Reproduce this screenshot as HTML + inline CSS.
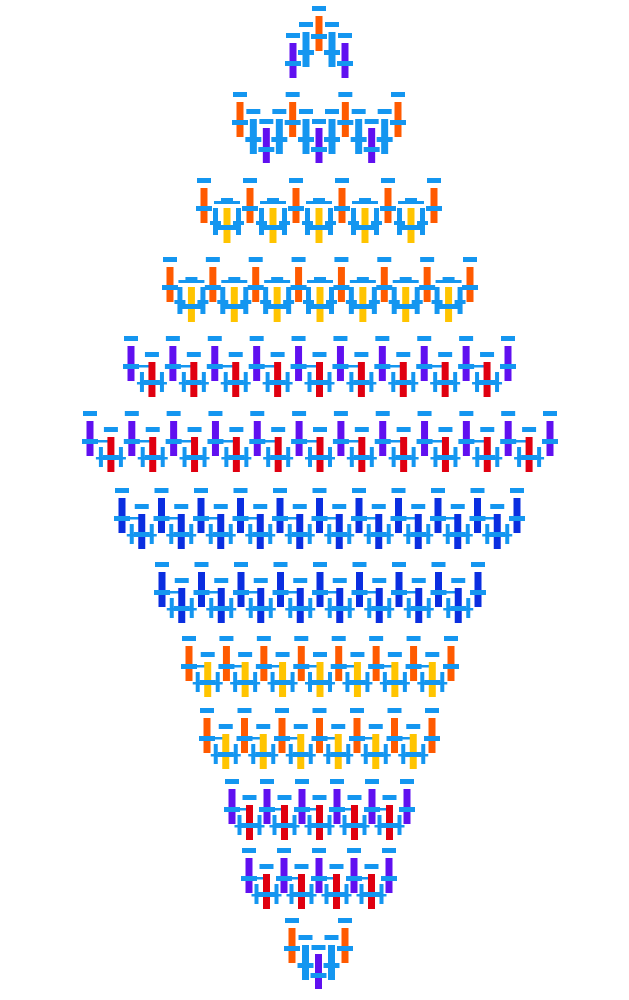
<!DOCTYPE html>
<html><head><meta charset="utf-8"><style>
html,body{margin:0;padding:0;background:#fff;width:629px;height:1000px;overflow:hidden}
svg{display:block}
</style></head><body>
<svg id="chart" width="629" height="1000" viewBox="0 0 629 1000" xmlns="http://www.w3.org/2000/svg"></svg>
<script>
// row data: top y of dash, first/last primary x, count, colors, style
const rowTops = [92, 178, 257, 336, 411, 488, 562, 636, 708, 779, 848, 918];
const rowFirstX = [240, 204, 170, 131, 90, 122, 162, 189, 207, 232, 249, 292];
const rowLastX = [398, 434, 470, 508, 550, 517, 478, 451, 432, 407, 389, 345];
const rowCounts = [4, 6, 8, 10, 12, 11, 9, 8, 7, 6, 5, 2];
const rowColorA = ['#ff5a00','#ff5a00','#ff5a00','#6010f0','#6010f0','#0a2ee0','#0a2ee0','#ff5a00','#ff5a00','#6010f0','#6010f0','#ff5a00'];
const rowColorB = ['#6010f0','#ffc400','#ffc400','#e00010','#e00010','#0a2ee0','#0a2ee0','#ffc400','#ffc400','#e00010','#e00010','#6010f0'];
const rowStyle = ['tall','mid','mid','short','short','short','short','short','short','short','short','tall'];

const BLUE = '#1496f0';
const svg = document.getElementById('chart');
const NS = 'http://www.w3.org/2000/svg';
function rect(x, y, w, h, fill, name) {
  const r = document.createElementNS(NS, 'rect');
  r.setAttribute('x', x); r.setAttribute('y', y);
  r.setAttribute('width', w); r.setAttribute('height', h);
  r.setAttribute('fill', fill);
  
  
  svg.appendChild(r);
}
function glyph(x, top, color, name) {
  rect(x - 7, top, 14, 5, BLUE, name + '-cap');
  rect(x - 3.5, top + 10, 7, 35, color, name);
  rect(x - 8, top + 28, 16, 5, BLUE, name + '-cross');
}

// top special group
glyph(319, 6, '#ff5a00', 'top-center-bar');
glyph(306, 22, BLUE, 'top-left-blue');
glyph(332, 22, BLUE, 'top-right-blue');
glyph(293, 33, '#6010f0', 'top-left-purple');
glyph(345, 33, '#6010f0', 'top-right-purple');

rowTops.forEach((y, r) => {
  const n = rowCounts[r];
  const step = n > 1 ? (rowLastX[r] - rowFirstX[r]) / (n - 1) : 0;
  const xs = [];
  for (let i = 0; i < n; i++) xs.push(rowFirstX[r] + i * step);
  for (let i = 0; i < n - 1; i++) {
    const m = (xs[i] + xs[i + 1]) / 2;
    const st = rowStyle[r];
    if (st === 'tall') {
      glyph(m - 13, y + 17, BLUE, 'sub-bar-left');
      glyph(m + 13, y + 17, BLUE, 'sub-bar-right');
      rect(m - 7, y + 27, 14, 5, BLUE, 'secondary-cap');
      rect(m - 3.5, y + 36, 7, 35, rowColorB[r], 'secondary-bar');
      rect(m - 8, y + 55, 16, 5, BLUE, 'secondary-cross');
    } else if (st === 'mid') {
      rect(m - 13, y + 23, 26, 3, BLUE, 'sub-connector-top');
      rect(m - 6, y + 20, 12, 5, BLUE, 'secondary-cap');
      rect(m - 14, y + 30, 5, 27, BLUE, 'sub-bar-left');
      rect(m + 9, y + 30, 5, 27, BLUE, 'sub-bar-right');
      rect(m - 17, y + 43, 11, 4, BLUE, 'sub-cross-left');
      rect(m + 6, y + 43, 11, 4, BLUE, 'sub-cross-right');
      rect(m - 3.5, y + 30, 7, 35, rowColorB[r], 'secondary-bar');
      rect(m - 12, y + 47, 24, 5, BLUE, 'secondary-cross');
    } else {
      rect(xs[i], y + 29, 20, 2.5, BLUE, 'connector');
      rect(m - 7, y + 16, 14, 5, BLUE, 'secondary-cap');
      rect(m - 3.5, y + 26, 7, 35, rowColorB[r], 'secondary-bar');
      rect(m - 12, y + 36, 4, 20, BLUE, 'sub-bar-left');
      rect(m + 8, y + 36, 4, 20, BLUE, 'sub-bar-right');
      rect(m - 15, y + 46, 30, 2.5, BLUE, 'sub-connector');
      rect(m - 8, y + 44, 16, 5, BLUE, 'secondary-cross');
    }
  }
  xs.forEach(x => glyph(x, y, rowColorA[r], 'primary-bar'));
});
</script>
</body></html>
